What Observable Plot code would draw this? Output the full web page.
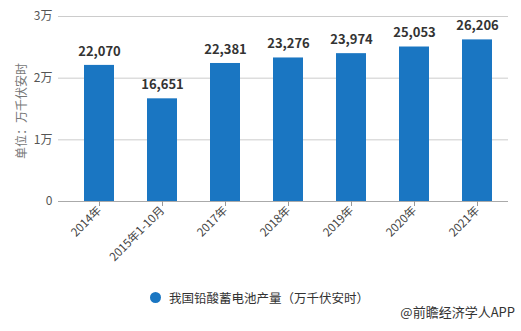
<!DOCTYPE html>
<html><head><meta charset="utf-8">
<script src="https://cdn.jsdelivr.net/npm/d3@7"></script>
<script src="https://cdn.jsdelivr.net/npm/@observablehq/plot@0.6"></script>
<style>
body{margin:0;background:#fff;font-family:"Noto Sans CJK SC","Noto Sans",sans-serif;}
#wrap{position:relative;width:521px;height:331px;}
#legend{position:absolute;left:150px;top:288px;font-size:12.5px;color:#333;display:flex;align-items:center;}
#legend .dot{width:11px;height:11px;border-radius:50%;background:#1a76c2;margin-right:8px;}
#credit{position:absolute;right:6px;top:302px;font-size:13px;color:#333;}
</style></head>
<body><div id="wrap"><div id="chart"></div>
<div id="legend"><span class="dot"></span><span id="legtext"></span></div>
<div id="credit">@前瞻经济学人APP</div></div>
<script>
const categories = ["2014年","2015年1-10月","2017年","2018年","2019年","2020年","2021年"];
const values = [22070,16651,22381,23276,23974,25053,26206];
const yTicks = [0,10000,20000,30000];
const yTickLabels = ["0","1万","2万","3万"];
const seriesName = "我国铅酸蓄电池产量（万千伏安时）";
const yLabel = "单位：万千伏安时";

const data = categories.map((c,i)=>({cat:c,value:values[i]}));
document.getElementById("legtext").textContent = seriesName;

const chart = Plot.plot({
  width:521, height:270,
  marginLeft:68, marginRight:13, marginTop:16, marginBottom:69,
  style:{fontFamily:'"Noto Sans CJK SC","Noto Sans",sans-serif', fontSize:"12px", color:"#555"},
  x:{domain:categories, paddingInner:0.524, paddingOuter:0.25, label:null},
  y:{domain:[0,30000], ticks:yTicks, label:null, grid:false},
  marks:[
    Plot.gridY(yTicks.filter(d=>d>0),{stroke:"#ccc",strokeOpacity:1, insetLeft:-10}),
    Plot.barY(data,{x:"cat",y:"value",fill:"#1a76c2"}),
    Plot.ruleY([0],{stroke:"#aaa", insetLeft:-10}),
    Plot.axisX({tickRotate:-45, tickSize:5, stroke:"#999", fill:"#444", fontSize:11.5, tickPadding:2}),
    Plot.axisY({ticks:yTicks, tickFormat:(d)=>yTickLabels[yTicks.indexOf(d)], tickSize:0, tickPadding:16, fill:"#555", fontSize:12}),
    Plot.text(data,{x:"cat",y:"value",text:d=>d3.format(",")(d.value),dy:-14,fill:"#333",fontWeight:"bold",fontSize:13}),
    Plot.text([yLabel],{frameAnchor:"left",textAnchor:"middle",dx:-46,dy:2,rotate:-90,fill:"#777",fontSize:12})
  ]
});
document.getElementById("chart").appendChild(chart);
</script></body></html>
